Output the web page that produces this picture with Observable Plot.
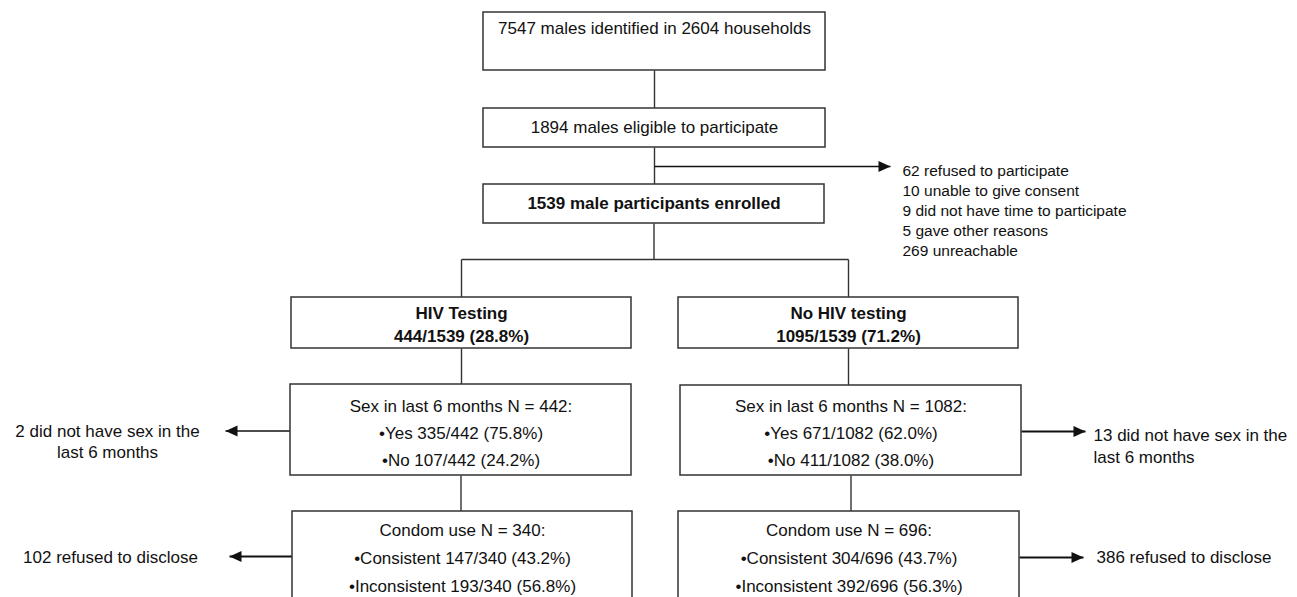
<!DOCTYPE html>
<html><head><meta charset="utf-8">
<script src="https://cdn.jsdelivr.net/npm/d3@7"></script>
<script src="https://cdn.jsdelivr.net/npm/@observablehq/plot@0.6"></script>
<style>html,body{margin:0;padding:0;background:#fff;}</style>
</head><body><div id="chart"></div>
<script>
// ---------------- data ----------------
const identifiedMales = 7547;
const households = 2604;
const eligibleMales = 1894;
const enrolledMales = 1539;
const exclusionCounts = [62, 10, 9, 5, 269];
const exclusionReasons = ["refused to participate", "unable to give consent", "did not have time to participate", "gave other reasons", "unreachable"];
const groupNames = ["HIV Testing", "No HIV testing"];
const groupCounts = [444, 1095];
const groupPct = ["28.8", "71.2"];
const sexN = [442, 1082];
const sexYes = [335, 671];
const sexYesPct = ["75.8", "62.0"];
const sexNo = [107, 411];
const sexNoPct = ["24.2", "38.0"];
const noSexCounts = [2, 13];
const condomN = [340, 696];
const condomConsistent = [147, 304];
const condomConsistentPct = ["43.2", "43.7"];
const condomInconsistent = [193, 392];
const condomInconsistentPct = ["56.8", "56.3"];
const refusedDisclose = [102, 386];

// ---------------- layout (pixel geometry of the flow diagram) ----------------
const layout = {
  identified: {x1: 483, x2: 825, y1: 12, y2: 70, ty: 28},
  eligible:   {x1: 483, x2: 825, y1: 108, y2: 147},
  enrolled:   {x1: 483, x2: 824, y1: 184, y2: 223},
  hiv0:       {x1: 291, x2: 631, y1: 297, y2: 348},
  hiv1:       {x1: 678, x2: 1018, y1: 297, y2: 348},
  sex0:       {x1: 290, x2: 631, y1: 384, y2: 475},
  sex1:       {x1: 680, x2: 1021, y1: 385, y2: 475},
  cond0:      {x1: 292, x2: 632, y1: 511, y2: 602},
  cond1:      {x1: 678, x2: 1019, y1: 511, y2: 602}
};
const busY = 259;
const exclusionArrowY = 166, exclusionTipX = 890, exclusionTextX = 902, exclusionTextY = 209;
const sideTip = {sex0: 225, sex1: 1085, cond0: 229, cond1: 1083};
const sideNote = {sex0: {x: 107, y: 440.5}, sex1: {x: 1093, y: 444}, cond0: {x: 110, y: 557}, cond1: {x: 1096, y: 557}};

// ---------------- build tables ----------------
const fmt = (n, N, p) => `${n}/${N} (${p}%)`;
const nodes = [
  {id: "identified", label: `${identifiedMales} males identified in ${households} households`, kind: "plain"},
  {id: "eligible", label: `${eligibleMales} males eligible to participate`, kind: "plain"},
  {id: "enrolled", label: `${enrolledMales} male participants enrolled`, kind: "bold1"},
  ...[0, 1].map(i => ({id: "hiv" + i, label: `${groupNames[i]}\n${fmt(groupCounts[i], enrolledMales, groupPct[i])}`, kind: "bold2"})),
  ...[0, 1].map(i => ({id: "sex" + i, label: `Sex in last 6 months N = ${sexN[i]}:\n•Yes ${fmt(sexYes[i], sexN[i], sexYesPct[i])}\n•No ${fmt(sexNo[i], sexN[i], sexNoPct[i])}`, kind: "sex"})),
  ...[0, 1].map(i => ({id: "cond" + i, label: `Condom use N = ${condomN[i]}:\n•Consistent ${fmt(condomConsistent[i], condomN[i], condomConsistentPct[i])}\n•Inconsistent ${fmt(condomInconsistent[i], condomN[i], condomInconsistentPct[i])}`, kind: "cond"}))
].map(d => {
  const g = layout[d.id];
  return {...d, ...g, cx: (g.x1 + g.x2) / 2, cy: g.ty ?? (g.y1 + Math.min(g.y2, 597 + 5)) / 2};
});
const B = Object.fromEntries(nodes.map(d => [d.id, d]));
// condom box text centre sits in the visible part
B.cond0.cy = 555; B.cond1.cy = 555;

const segments = [
  {x1: B.identified.cx, y1: B.identified.y2, x2: B.identified.cx, y2: B.eligible.y1},
  {x1: B.eligible.cx, y1: B.eligible.y2, x2: B.eligible.cx, y2: B.enrolled.y1},
  {x1: B.enrolled.cx, y1: B.enrolled.y2, x2: B.enrolled.cx, y2: busY},
  {x1: B.hiv0.cx, y1: busY, x2: B.hiv1.cx, y2: busY},
  {x1: B.hiv0.cx, y1: busY, x2: B.hiv0.cx, y2: B.hiv0.y1},
  {x1: B.hiv1.cx, y1: busY, x2: B.hiv1.cx, y2: B.hiv1.y1},
  {x1: B.hiv0.cx, y1: B.hiv0.y2, x2: B.hiv0.cx, y2: B.sex0.y1},
  {x1: B.hiv1.cx, y1: B.hiv1.y2, x2: B.hiv1.cx, y2: B.sex1.y1},
  {x1: B.sex0.cx, y1: B.sex0.y2, x2: B.sex0.cx, y2: B.cond0.y1},
  {x1: B.sex1.cx, y1: B.sex1.y2, x2: B.sex1.cx, y2: B.cond1.y1}
];

const arrows = [
  {x1: B.eligible.cx, y1: exclusionArrowY, x2: exclusionTipX, y2: exclusionArrowY, dir: 1, w: 1.4},
  {x1: B.sex0.x1, y1: B.sex0.cy + 1, x2: sideTip.sex0, y2: B.sex0.cy + 1, dir: -1, w: 1.5},
  {x1: B.sex1.x2, y1: B.sex1.cy + 1, x2: sideTip.sex1, y2: B.sex1.cy + 1, dir: 1, w: 2},
  {x1: B.cond0.x1, y1: 556, x2: sideTip.cond0, y2: 556, dir: -1, w: 2.2},
  {x1: B.cond1.x2, y1: 557, x2: sideTip.cond1, y2: 557, dir: 1, w: 2.2}
];

const notesMiddle = [
  {x: sideNote.sex0.x, y: sideNote.sex0.y, text: `${noSexCounts[0]} did not have sex in the\nlast 6 months`, lh: 21 / 17},
];
const notesStart = [
  {x: sideNote.sex1.x, y: sideNote.sex1.y, text: `${noSexCounts[1]} did not have sex in the\nlast 6 months`}
];
const refusedNotes = [
  {x: sideNote.cond0.x, y: sideNote.cond0.y, text: `${refusedDisclose[0]} refused to disclose`, anchor: "middle"},
  {x: sideNote.cond1.x, y: sideNote.cond1.y, text: `${refusedDisclose[1]} refused to disclose`, anchor: "start"}
];
const exclusionText = [{x: exclusionTextX, y: exclusionTextY, text: exclusionCounts.map((c, i) => `${c} ${exclusionReasons[i]}`).join("\n")}];

// arrowhead symbols (tip at the anchor point)
const headRight = {draw(ctx, size) { const r = Math.sqrt(size / Math.PI); ctx.moveTo(0, 0); ctx.lineTo(-2.4 * r, -1.1 * r); ctx.lineTo(-2.4 * r, 1.1 * r); ctx.closePath(); }};
const headLeft  = {draw(ctx, size) { const r = Math.sqrt(size / Math.PI); ctx.moveTo(0, 0); ctx.lineTo(2.4 * r, -1.1 * r); ctx.lineTo(2.4 * r, 1.1 * r); ctx.closePath(); }};

const FONT = "'Liberation Sans', Arial, Helvetica, sans-serif";
const INK = "#111";
const LINE = "#333";

const chart = Plot.plot({
  width: 1297,
  height: 597,
  margin: 0,
  style: {fontFamily: FONT, background: "#fff"},
  x: {domain: [0, 1297], range: [0, 1297], axis: null},
  y: {domain: [0, 597], range: [0, 597], axis: null},
  marks: [
    Plot.link(segments, {x1: "x1", y1: "y1", x2: "x2", y2: "y2", stroke: LINE, strokeWidth: 1.4}),
    Plot.link(arrows, {x1: "x1", y1: "y1", x2: "x2", y2: "y2", stroke: INK, strokeWidth: "w"}),
    Plot.dot(arrows.filter(d => d.dir > 0), {x: "x2", y: "y2", symbol: headRight, r: 5, fill: INK, stroke: null}),
    Plot.dot(arrows.filter(d => d.dir < 0), {x: "x2", y: "y2", symbol: headLeft, r: 5, fill: INK, stroke: null}),
    Plot.rect(nodes, {x1: "x1", x2: "x2", y1: "y1", y2: "y2", fill: "white", stroke: LINE, strokeWidth: 1.5}),
    Plot.text(nodes.filter(d => d.kind === "plain"), {x: "cx", y: "cy", text: "label", fontSize: 17, fill: INK}),
    Plot.text(nodes.filter(d => d.kind === "bold1"), {x: "cx", y: "cy", text: "label", fontSize: 17, fontWeight: "bold", fill: INK}),
    Plot.text(nodes.filter(d => d.kind === "bold2"), {x: "cx", y: "cy", text: "label", fontSize: 17, fontWeight: "bold", lineHeight: 23 / 17, fill: INK}),
    Plot.text(nodes.filter(d => d.kind === "sex"), {x: "cx", y: "cy", text: "label", fontSize: 17, lineHeight: 27 / 17, fill: INK}),
    Plot.text(nodes.filter(d => d.kind === "cond"), {x: "cx", y: "cy", text: "label", fontSize: 17, lineHeight: 28 / 17, fill: INK}),
    Plot.text(exclusionText, {x: "x", y: "y", text: "text", fontSize: 15.5, lineHeight: 20 / 15.5, textAnchor: "start", fill: INK}),
    Plot.text(notesMiddle, {x: "x", y: "y", text: "text", fontSize: 17, lineHeight: 21 / 17, textAnchor: "middle", fill: INK}),
    Plot.text(notesStart, {x: "x", y: "y", text: "text", fontSize: 17, lineHeight: 22 / 17, textAnchor: "start", fill: INK}),
    Plot.text(refusedNotes.filter(d => d.anchor === "middle"), {x: "x", y: "y", text: "text", fontSize: 17, textAnchor: "middle", fill: INK}),
    Plot.text(refusedNotes.filter(d => d.anchor === "start"), {x: "x", y: "y", text: "text", fontSize: 17, textAnchor: "start", fill: INK})
  ]
});
document.getElementById("chart").appendChild(chart);
</script>
</body></html>
